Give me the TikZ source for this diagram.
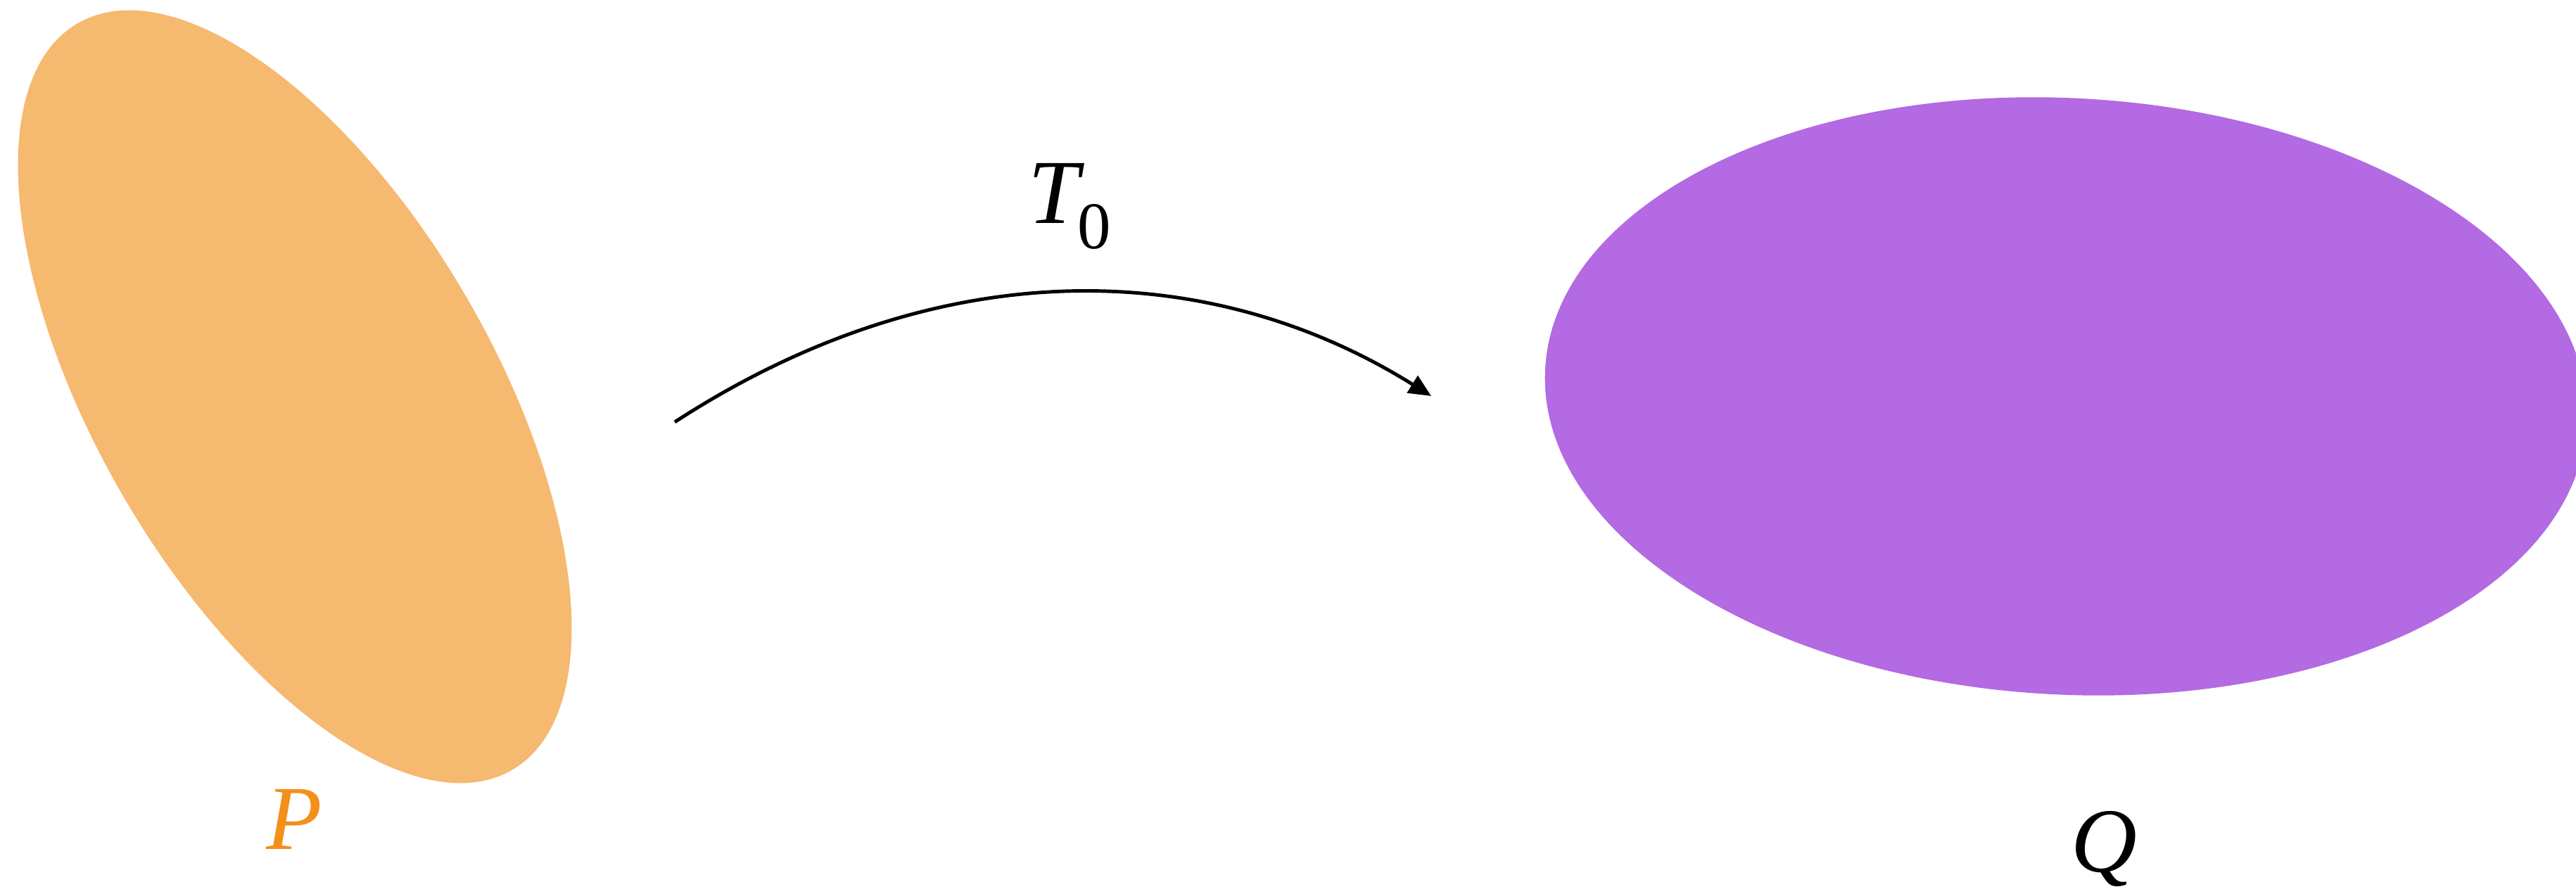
\documentclass[tikz,border=0pt]{standalone}
\usepackage{fontspec}
\setmainfont{Liberation Serif}
\usetikzlibrary{arrows.meta}
\definecolor{porange}{HTML}{F6B970}
\definecolor{plabel}{HTML}{F39019}
\definecolor{qpurple}{HTML}{B36AE2}
\begin{document}
\begin{tikzpicture}[
    lbl/.style={font=\fontsize{37}{40}\selectfont, inner sep=0pt, anchor=base},
    mapping/.style={-{Triangle[length=9pt,width=8pt]}, line width=1.4pt}]
                \useasboundingbox (0,0) rectangle (36.61,12.71);
                % Distributions
                \fill[porange, rotate around={-59.8:(4.19,7.07)}] (4.19,7.07) ellipse [x radius=6.14, y radius=2.82];
                \fill[qpurple, rotate around={-3:(29.36,7.075)}] (29.36,7.075) ellipse [x radius=7.41, y radius=4.24];
                \node[lbl, text=plabel] (p) at (4.18,0.63) {\textit{P}};
                \node[lbl] (q) at (29.90,0.31) {\textit{Q}};
                % Map
                \coordinate (src) at (9.59,6.71);
                \coordinate (dst) at (20.34,7.08);
                \draw[mapping] (src) .. controls (13.28,9.11) and (17.12,9.09) .. (dst);
                \node[lbl] (t) at (15.20,9.53) {\textit{T}\kern-3pt{\fontsize{27}{30}\selectfont\raisebox{-10pt}{0}}};
            \end{tikzpicture}
\end{document}
